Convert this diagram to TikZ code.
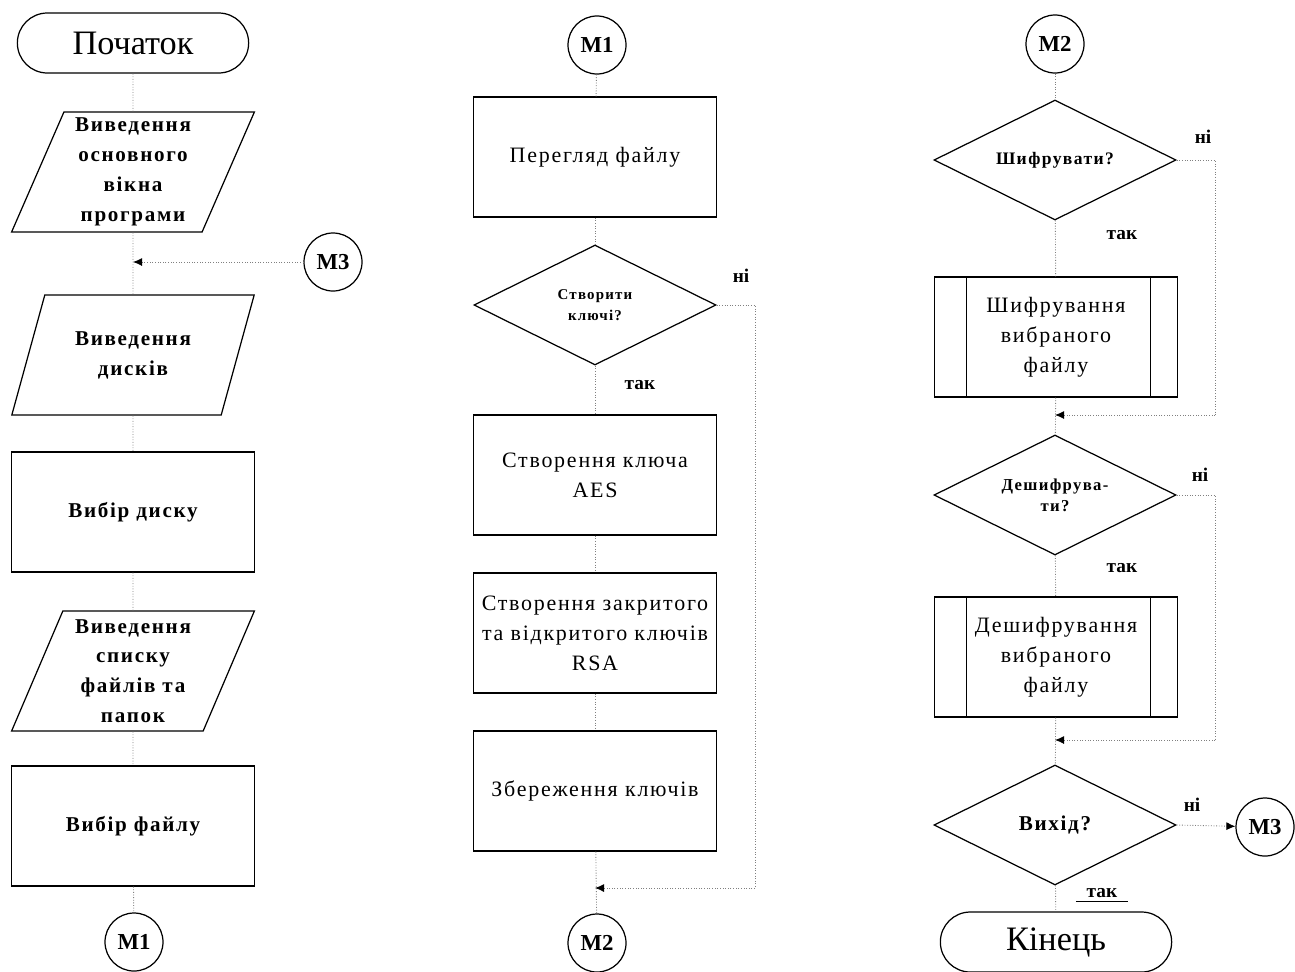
\documentclass[tikz,border=0pt]{standalone}
\usepackage{fontspec}
\setmainfont{Liberation Serif}
\newfontfamily\widefont{Liberation Serif}[LetterSpace=8]
\usetikzlibrary{arrows.meta,positioning,shapes.geometric,shapes.misc}
\tikzset{
    term/.style={
        draw,
        line width=0.7pt,
        rounded rectangle,
        minimum width=48.6mm,
        minimum height=12mm,
        font=\fontsize{19.5}{22}\selectfont
    },
    io/.style={
        draw,
        line width=0.7pt,
        trapezium,
        trapezium left angle=68,
        trapezium right angle=112,
        trapezium stretches=true,
        minimum width=48.6mm,
        minimum height=24mm,
        align=center,
        font=\widefont\bfseries\fontsize{12}{17}\selectfont
    },
    proc/.style={
        draw,
        line width=0.7pt,
        inner sep=1pt,
        minimum width=48.6mm,
        minimum height=24mm,
        align=center,
        font=\widefont\fontsize{12.5}{17}\selectfont
    },
    cond/.style={
        draw,
        line width=0.7pt,
        diamond,
        aspect=2,
        inner sep=0pt,
        minimum width=48.4mm,
        minimum height=24mm,
        align=center,
        font=\widefont\bfseries\fontsize{10}{12}\selectfont
    },
    marker/.style={
        draw,
        line width=0.7pt,
        circle,
        inner sep=0pt,
        minimum size=11.6mm,
        font=\bfseries\fontsize{13}{15}\selectfont
    },
    link/.style={
        densely dotted,
        gray,
        line width=0.5pt
    },
    arrow/.style={
        link,
        -{Latex[length=1.8mm,width=1.6mm,color=black]}
    },
    lbl/.style={fill=white, inner sep=2pt, font=\bfseries\fontsize{11}{13}\selectfont}
}
\begin{document}
\begin{tikzpicture}[x=0.2mm, y=-0.2mm]
\useasboundingbox (0,0) rectangle (1295,971);

% first column
\node[term] (start) at (133,43) {Початок};
\node[io] (in1) at (133,172) {Виведення\\основного\\вікна\\програми};
\node[marker] (m3a) at (333,262) {М3};
\node[io] (in2) at (133,355) {Виведення\\дисків};
\node[proc, font=\widefont\bfseries\fontsize{12}{17}\selectfont] (disk) at (133,512) {Вибір диску};
\node[io] (in3) at (133,671) {Виведення\\списку\\файлів та\\папок};
\node[proc, font=\widefont\bfseries\fontsize{12}{17}\selectfont] (file) at (133,826) {Вибір файлу};
\node[marker] (m1a) at (134,942) {М1};

\draw[link] (start) -- (in1);
\draw[link] (in1) -- (in2);
\draw[arrow] (m3a) -- (m3a -| in1);
\draw[link] (in2) -- (disk);
\draw[link] (disk) -- (in3);
\draw[link] (in3) -- (file);
\draw[link] (file) -- (m1a);

% second column
\node[marker] (m1b) at (597,45) {М1};
\node[proc] (view) at (595,157) {Перегляд файлу};
\node[cond, font=\widefont\bfseries\fontsize{8.5}{12}\selectfont] (qkey) at (595,305) {Створити\\ключі?};
\node[proc] (aes) at (595,475) {Створення ключа\\AES};
\node[proc] (rsa) at (595,633) {Створення закритого\\та відкритого ключів\\RSA};
\node[proc] (save) at (595,791) {Збереження ключів};
\node[marker] (m2a) at (597,943) {М2};
\node[lbl] (no1) at (741,276) {ні};
\node[lbl] (yes1) at (640,385) {так};
\coordinate (k1) at (755,888);
\coordinate (j1) at (595,888);

\draw[link] (m1b) -- (view);
\draw[link] (view) -- (qkey);
\draw[link] (qkey) -- (aes);
\draw[link] (aes) -- (rsa);
\draw[link] (rsa) -- (save);
\draw[link] (save) -- (m2a);
\draw[link] (qkey.east) -| (k1);
\draw[arrow] (k1) -- (j1);

% third column
\node[marker] (m2b) at (1055,44) {М2};
\node[cond] (qenc) at (1055,160) {Шифрувати?};
\node[proc] (enc) at (1056,337) {Шифрування\\вибраного\\файлу};
\node[cond, font=\widefont\bfseries\fontsize{9.5}{12}\selectfont] (qdec) at (1055,495) {Дешифрува-\\ти?};
\node[proc] (dec) at (1056,657) {Дешифрування\\вибраного\\файлу};
\node[cond, font=\widefont\bfseries\fontsize{12}{14}\selectfont] (qexit) at (1055,825) {Вихід?};
\node[term] (end) at (1056,942) {Кінець};
\node[marker] (m3b) at (1265,827) {М3};
\node[lbl] (no2) at (1203,137) {ні};
\node[lbl] (yes2) at (1122,235) {так};
\node[lbl] (no3) at (1200,475) {ні};
\node[lbl] (yes3) at (1122,568) {так};
\node[lbl] (no4) at (1192,805) {ні};
\node[lbl, inner xsep=6pt] (yes4) at (1102,893) {так};
\coordinate (k2) at (1215,415);
\coordinate (j2) at (1055,415);
\coordinate (k3) at (1215,740);
\coordinate (j3) at (1055,740);

\draw ([xshift=6.4mm]enc.north west) -- ([xshift=6.4mm]enc.south west);
\draw ([xshift=-5.6mm]enc.north east) -- ([xshift=-5.6mm]enc.south east);
\draw ([xshift=6.4mm]dec.north west) -- ([xshift=6.4mm]dec.south west);
\draw ([xshift=-5.6mm]dec.north east) -- ([xshift=-5.6mm]dec.south east);
\draw[line width=1pt] (yes4.south west) -- (yes4.south east);

\draw[link] (m2b) -- (qenc);
\draw[link] (qenc) -- (enc);
\draw[link] (enc) -- (qdec);
\draw[link] (qdec) -- (dec);
\draw[link] (dec) -- (qexit);
\draw[link] (qexit) -- (end);
\draw[link] (qenc.east) -| (k2);
\draw[arrow] (k2) -- (j2);
\draw[link] (qdec.east) -| (k3);
\draw[arrow] (k3) -- (j3);
\draw[arrow] (qexit.east) -- (m3b);

\end{tikzpicture}
\end{document}
